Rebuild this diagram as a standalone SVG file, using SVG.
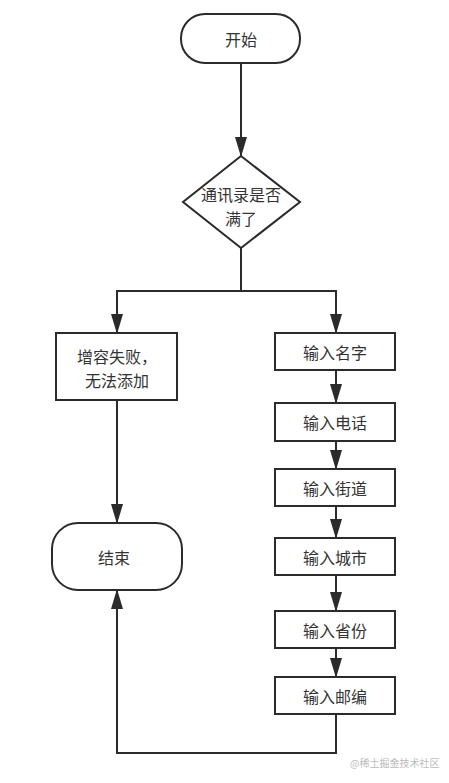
<svg xmlns="http://www.w3.org/2000/svg" width="449" height="783" viewBox="0 0 449 783">
<style>
.n{fill:#fff;stroke:#2b2b2b;stroke-width:2}
.t{font-family:"Noto Sans CJK SC","Liberation Sans",sans-serif;font-size:16px;fill:#333;text-anchor:middle;dominant-baseline:central}
.c{fill:none;stroke:#2b2b2b;stroke-width:2}
.w{font-family:"Noto Sans CJK SC","Liberation Sans",sans-serif;font-size:10px;fill:#bbb}
</style>
<defs>
<marker id="a" markerUnits="userSpaceOnUse" markerWidth="20" markerHeight="12" refX="19" refY="6" orient="auto" viewBox="0 0 20 12">
<path d="M0,0 L20,6 L0,12 Z" fill="#2b2b2b"/>
</marker>
</defs>
<rect width="449" height="783" fill="#fff"/>
<g id="connectors">
<path class="c" d="M241,63 V156" marker-end="url(#a)"/>
<path class="c" d="M241,248 V291 H117 V333" marker-end="url(#a)"/>
<path class="c" d="M241,291 H336 V333" marker-end="url(#a)"/>
<path class="c" d="M117,400 V523" marker-end="url(#a)"/>
<path class="c" d="M336,370 V403" marker-end="url(#a)"/>
<path class="c" d="M336,441 V469" marker-end="url(#a)"/>
<path class="c" d="M336,506 V538" marker-end="url(#a)"/>
<path class="c" d="M336,575 V611" marker-end="url(#a)"/>
<path class="c" d="M336,648 V677" marker-end="url(#a)"/>
<path class="c" d="M336,714 V753 H117 V590" marker-end="url(#a)"/>
</g>
<g id="start">
<rect class="n" x="181" y="14" width="119" height="49" rx="24" ry="24"/>
<text class="t" x="241" y="39">开始</text>
</g>
<g id="decision">
<path class="n" d="M241,156 L300,202 L241,248 L183,202 Z"/>
<text class="t" x="241" y="194">通讯录是否</text>
<text class="t" x="241" y="218">满了</text>
</g>
<g id="fail">
<rect class="n" x="56" y="333" width="121" height="67"/>
<text class="t" x="117" y="356">增容失败，</text>
<text class="t" x="117" y="380">无法添加</text>
</g>
<g id="end">
<rect class="n" x="52" y="523" width="130" height="67" rx="26" ry="26"/>
<text class="t" x="114" y="557">结束</text>
</g>
<g id="name">
<rect class="n" x="275" y="333" width="120" height="37"/>
<text class="t" x="335" y="352">输入名字</text>
</g>
<g id="phone">
<rect class="n" x="275" y="403" width="120" height="38"/>
<text class="t" x="335" y="422">输入电话</text>
</g>
<g id="street">
<rect class="n" x="275" y="469" width="120" height="37"/>
<text class="t" x="335" y="488">输入街道</text>
</g>
<g id="city">
<rect class="n" x="275" y="538" width="120" height="37"/>
<text class="t" x="335" y="557">输入城市</text>
</g>
<g id="province">
<rect class="n" x="275" y="611" width="120" height="37"/>
<text class="t" x="335" y="630">输入省份</text>
</g>
<g id="zip">
<rect class="n" x="275" y="677" width="120" height="37"/>
<text class="t" x="335" y="696">输入邮编</text>
</g>
<text class="w" x="350" y="767">@稀土掘金技术社区</text>
</svg>
